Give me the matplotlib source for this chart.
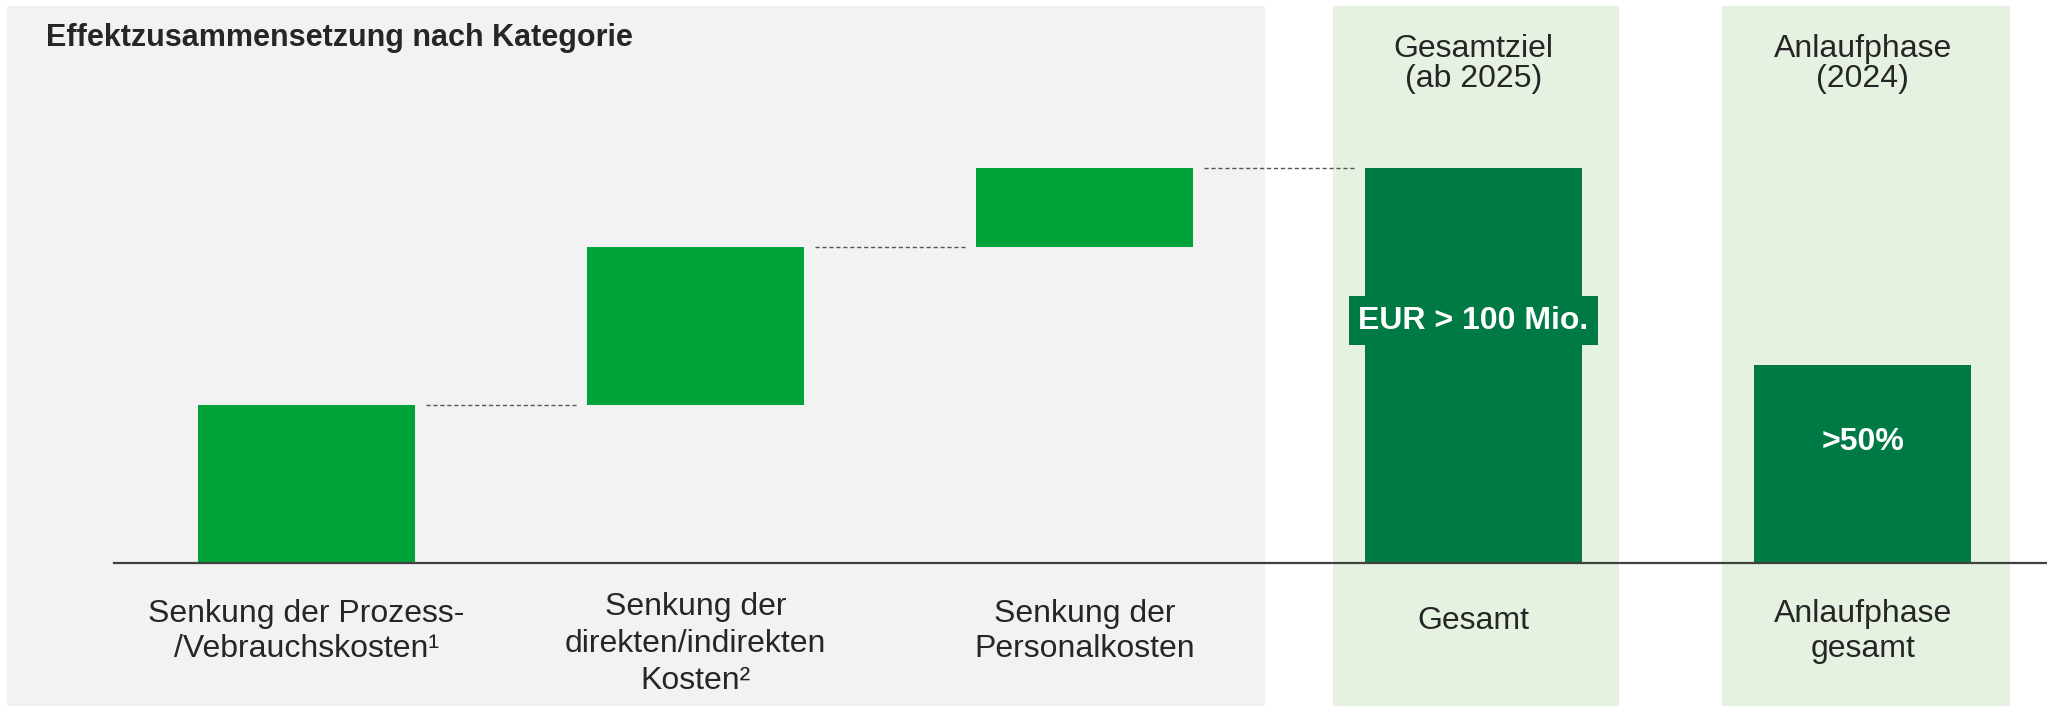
import numpy as np
import matplotlib.pyplot as plt

plt.rcParams['font.family'] = ['Liberation Sans', 'DejaVu Sans']

# waterfall steps (relative, total = 100 ~ "EUR > 100 Mio.")
steps = [40, 40, 20]
total = 100
ramp_up = 50
step_labels = ['Senkung der Prozess-\n/Vebrauchskosten\u00b9',
               'Senkung der\ndirekten/indirekten\nKosten\u00b2',
               'Senkung der\nPersonalkosten']
total_labels = ['Gesamt', 'Anlaufphase\ngesamt']
head_labels = ['Gesamtziel\n(ab 2025)', 'Anlaufphase\n(2024)']
value_texts = ['EUR > 100 Mio.', '>50%']

light_green = '#00A33A'
dark_green = '#007A45'
grey_bg = '#F2F2F2'
green_bg = '#E5F2E2'
text_col = '#262626'

fig = plt.figure(figsize=(20.47, 7.06), dpi=100)
ax = fig.add_axes([0, 0, 1, 1])
ax.set_xlim(-0.788, 4.474)
ax.set_ylim(-36.2, 142.5)
ax.axis('off')

# background panels
ax.axvspan(-0.770, 2.464, ymin=0, ymax=0.9915, color=grey_bg, lw=0, zorder=0)
ax.axvspan(2.639, 3.374, ymin=0, ymax=0.9915, color=green_bg, lw=0, zorder=0)
ax.axvspan(3.639, 4.379, ymin=0, ymax=0.9915, color=green_bg, lw=0, zorder=0)

w = 0.557
bottoms = np.concatenate([[0], np.cumsum(steps)[:-1]])
x_steps = np.arange(len(steps))
ax.bar(x_steps, steps, bottom=bottoms, width=w, color=light_green, zorder=2)
x_tot = np.array([3, 4])
ax.bar(x_tot, [total, ramp_up], width=w, color=dark_green, zorder=2)

# dashed connectors
tops = np.cumsum(steps)
gap = 0.028
for i, t in enumerate(tops):
    ax.plot([i + w / 2 + gap, i + 1 - w / 2 - gap], [t, t], color='#555555',
            lw=1, ls=(0, (3, 2)), zorder=1)

# baseline
ax.plot([-0.495, 4.474], [0, 0], color='#404040', lw=1.6, zorder=3)

# category labels
for i, lab in enumerate(step_labels + total_labels):
    yc, ls = -17.3, 1.22
    if lab.count('\n') == 2:
        yc, ls = -20.6, 1.3
    if i == 3:
        yc = -14.8
    ax.text(i, yc, lab, ha='center', va='center', fontsize=23,
            color=text_col, linespacing=ls, zorder=4)

for x, lab in zip(x_tot, head_labels):
    ax.text(x, 126.2, lab, ha='center', va='center', fontsize=23,
            color=text_col, linespacing=1.0, zorder=4)

ax.text(3, total * 0.613, value_texts[0], ha='center', va='center', fontsize=23,
        fontweight='bold', color='white', zorder=4,
        bbox=dict(boxstyle='square,pad=0.3', fc=dark_green, ec='none'))
ax.text(4, ramp_up * 0.61, value_texts[1], ha='center', va='center',
        fontsize=23, fontweight='bold', color='white', zorder=4)

fig.text(46 / 2047, 1 - 38 / 706, 'Effektzusammensetzung nach Kategorie',
         ha='left', va='center', fontsize=22, fontweight='bold', color=text_col)

fig.savefig('out.png', dpi=100)
